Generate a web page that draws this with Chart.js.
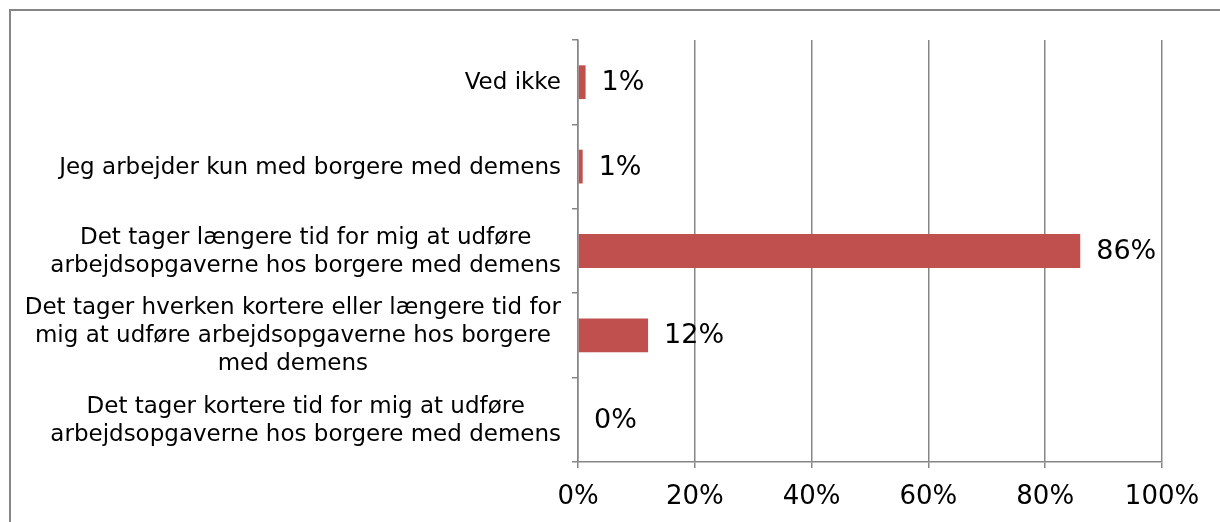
<!DOCTYPE html>
<html>
<head>
<meta charset="utf-8">
<script src="https://cdn.jsdelivr.net/npm/chart.js@4/dist/chart.umd.min.js"></script>
<style>
  html, body { margin: 0; padding: 0; background: #fff; }
  #wrap { width: 1220px; height: 522px; position: relative; }
</style>
</head>
<body>
<div id="wrap"><canvas id="myChart"></canvas></div>
<script>
// categories, top to bottom
var categories = [
    ["Ved ikke"],
    ["Jeg arbejder kun med borgere med demens"],
    ["Det tager længere tid for mig at udføre", "arbejdsopgaverne hos borgere med demens"],
    ["Det tager hverken kortere eller længere tid for", "mig at udføre arbejdsopgaverne hos borgere", "med demens"],
    ["Det tager kortere tid for mig at udføre", "arbejdsopgaverne hos borgere med demens"]
];
var values = [1.3, 0.8, 86, 12, 0];
var xTicks = [0, 20, 40, 60, 80, 100];

var GREY = "#868686";
var FONT = '"DejaVu Sans", Verdana, sans-serif';

// grey frame around the chart (cut by the window on the right and bottom)
var framePlugin = {
    id: 'frame',
    beforeDraw: function (chart) {
        var c = chart.ctx;
        c.save();
        c.strokeStyle = GREY;
        c.lineWidth = 2;
        c.strokeRect(10, 10, 1230, 530);
        c.restore();
    }
};

// category labels: block right aligned, lines centred (like Excel)
var catLabelPlugin = {
    id: 'catLabels',
    afterDraw: function (chart) {
        var c = chart.ctx;
        var y = chart.scales.y;
        c.save();
        c.font = '23px ' + FONT;
        c.fillStyle = "#000";
        c.textAlign = 'center';
        c.textBaseline = 'middle';
        categories.forEach(function (lines, i) {
            var py = y.getPixelForValue(i);
            var maxW = 0;
            lines.forEach(function (l) { maxW = Math.max(maxW, c.measureText(l).width); });
            var cx = 561 - maxW / 2;
            lines.forEach(function (l, j) {
                c.fillText(l, cx, py + 1 + (j - (lines.length - 1) / 2) * 28);
            });
        });
        c.restore();
    }
};

// value labels right of each bar
var valueLabelPlugin = {
    id: 'valueLabels',
    afterDatasetsDraw: function (chart) {
        var c = chart.ctx;
        var meta = chart.getDatasetMeta(0);
        c.save();
        c.font = '27px ' + FONT;
        c.fillStyle = "#000";
        c.textAlign = 'left';
        c.textBaseline = 'middle';
        meta.data.forEach(function (bar, i) {
            c.fillText(Math.round(values[i]) + "%", bar.x + 16, bar.y + 1);
        });
        c.restore();
    }
};

var ctx = document.getElementById('myChart').getContext('2d');
var chart = new Chart(ctx, {
    type: 'bar',
    data: {
        labels: categories,
        datasets: [{
            data: values,
            backgroundColor: "#C0504D",
            borderWidth: 0,
            barPercentage: 0.4,
            categoryPercentage: 1
        }]
    },
    options: {
        indexAxis: 'y',
        responsive: true,
        maintainAspectRatio: false,
        animation: false,
        layout: { padding: { top: 40, right: 58, left: 0, bottom: 0 } },
        plugins: {
            legend: { display: false },
            tooltip: { enabled: false }
        },
        scales: {
            x: {
                min: 0,
                max: 100,
                afterBuildTicks: function (scale) {
                    scale.ticks = xTicks.map(function (v) { return { value: v }; });
                },
                afterFit: function (scale) { scale.height = 60; },
                border: { color: GREY, width: 1.5 },
                grid: { color: GREY, lineWidth: 1.5, tickLength: 6 },
                ticks: {
                    padding: 14,
                    color: "#000",
                    font: { family: FONT, size: 26 },
                    callback: function (v) { return v + "%"; }
                }
            },
            y: {
                afterFit: function (scale) { scale.width = 578; },
                border: { color: GREY, width: 1.5 },
                grid: { color: GREY, lineWidth: 1.5, tickLength: 6, drawOnChartArea: false, offset: true },
                ticks: { display: false }
            }
        }
    },
    plugins: [framePlugin, catLabelPlugin, valueLabelPlugin]
});
</script>
</body>
</html>
